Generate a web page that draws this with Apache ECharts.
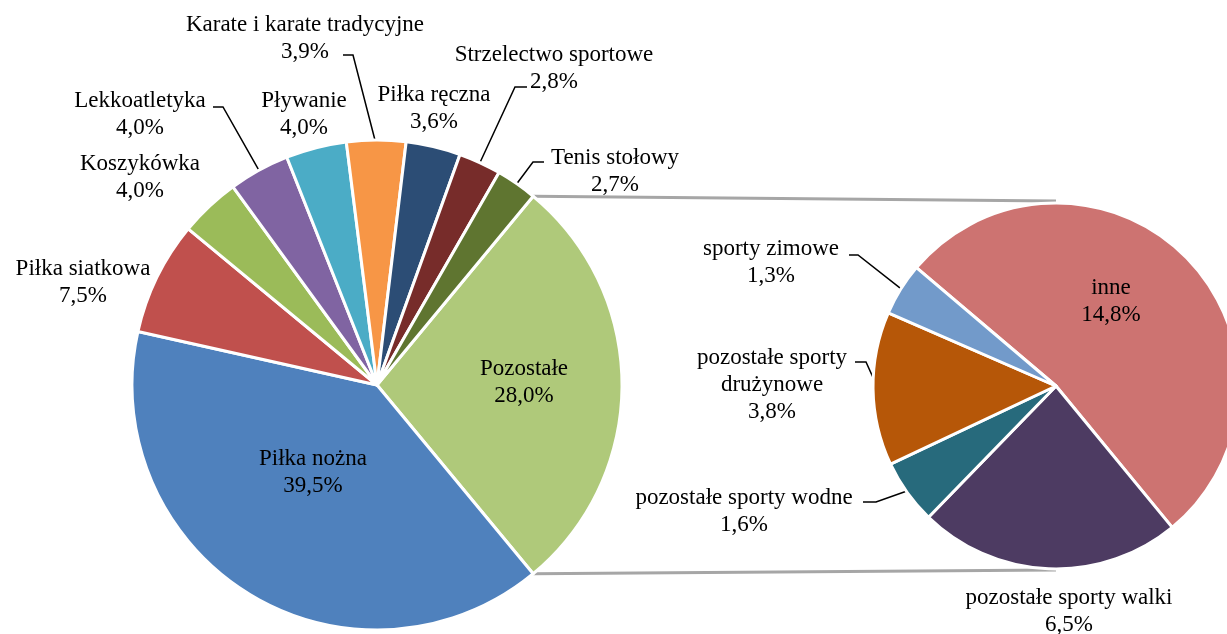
<!DOCTYPE html>
<html>
<head>
<meta charset="utf-8">
<title>Pie of pie</title>
<script src="https://cdn.jsdelivr.net/npm/echarts@6.0.0/dist/echarts.min.js"></script>
<style>
  html, body { margin: 0; padding: 0; background: #fff; }
  #chart { width: 1227px; height: 634px; }
</style>
</head>
<body>
<div id="chart"></div>
<script>
// main pie: "Pozostałe" is split into the small pie on the right
const mainNames = [
  "Pozostałe", "Piłka nożna", "Piłka siatkowa", "Koszykówka", "Lekkoatletyka",
  "Pływanie", "Karate i karate tradycyjne", "Piłka ręczna", "Strzelectwo sportowe", "Tenis stołowy"
];
const mainValues = [28.0, 39.5, 7.5, 4.0, 4.0, 4.0, 3.9, 3.6, 2.8, 2.7];
const mainColors = [
  "#afc97a", "#4f81bd", "#c0504d", "#9bbb59", "#8064a2",
  "#4bacc6", "#f79646", "#2c4d75", "#772c2a", "#5f7530"
];

const restNames = ["inne", "pozostałe sporty walki", "pozostałe sporty wodne", "pozostałe sporty\ndrużynowe", "sporty zimowe"];
const restValues = [14.8, 6.5, 1.6, 3.8, 1.3];
const restColors = ["#cd7371", "#4d3b62", "#276a7c", "#b65708", "#729aca"];

// geometry
const mainCenter = [377, 385], mainRadius = 245;
const restCenter = [1056, 386], restRadius = 183;
const restStart = 139.7;

// label text centres and leader line elbows (label side)
const mainLabelPos = [[524, 382], [313, 472], [83, 282], [140, 177], [140, 114],
  [304, 114], [305, 38], [434, 108], [554, 68], [615, 171]];
const mainLeaders = [null, null, null, null, [[223, 107], [213, 107]],
  null, [[353, 55], [343, 55]], null, [[515, 87], [527, 87]], [[533, 162], [544, 162]]];
const restLabelPos = [[1111, 301], [1069, 611], [744, 511], [772, 385], [771, 262]];
const restLeaders = [null, null, [[876, 502], [863, 502]], [[866, 362], [855, 362]], [[858, 255], [849, 255]]];

const fmt = v => v.toFixed(1).replace(".", ",") + "%";

function buildData(names, values, colors, leaders) {
  return names.map((n, i) => ({
    name: n,
    value: values[i],
    itemStyle: { color: colors[i] },
    labelLine: { show: !!leaders[i] }
  }));
}

function layoutFor(pos, leaders, center) {
  return params => {
    const i = params.dataIndex;
    const out = { x: pos[i][0], y: pos[i][1], align: "center", verticalAlign: "middle" };
    if (leaders[i] && params.labelLinePoints) {
      // end the leader a few px inside the slice, like the original
      const p = params.labelLinePoints[0];
      const dx = center[0] - p[0], dy = center[1] - p[1];
      const d = Math.sqrt(dx * dx + dy * dy) || 1;
      const inner = [p[0] + dx / d * 5, p[1] + dy / d * 5];
      out.labelLinePoints = [inner, leaders[i][0], leaders[i][1]];
    }
    return out;
  };
}

const mainTotal = mainValues.reduce((a, b) => a + b, 0);
const mainStart = mainValues[0] / mainTotal * 180;

const labelStyle = {
  show: true,
  position: "outside",
  color: "#000",
  fontFamily: "Liberation Serif",
  fontSize: 23,
  lineHeight: 27,
  formatter: p => p.name + "\n" + fmt(p.value)
};
const lineStyle = { color: "#000", width: 1.5 };

// connector lines between the two pies
const a = mainStart * Math.PI / 180;
const topA = [mainCenter[0] + mainRadius * Math.cos(a), mainCenter[1] - mainRadius * Math.sin(a)];
const botA = [mainCenter[0] + mainRadius * Math.cos(a), mainCenter[1] + mainRadius * Math.sin(a)];
const topB = [restCenter[0], restCenter[1] - restRadius - 2];
const botB = [restCenter[0], restCenter[1] + restRadius + 1];

const chart = echarts.init(document.getElementById("chart"));
chart.setOption({
  animation: false,
  backgroundColor: "#fff",
  graphic: [
    { type: "line", shape: { x1: topA[0], y1: topA[1], x2: topB[0], y2: topB[1] }, style: { stroke: "#a6a6a6", lineWidth: 3 }, z: 0 },
    { type: "line", shape: { x1: botA[0], y1: botA[1], x2: botB[0], y2: botB[1] }, style: { stroke: "#a6a6a6", lineWidth: 3 }, z: 0 }
  ],
  series: [
    {
      type: "pie",
      center: mainCenter,
      radius: mainRadius,
      startAngle: mainStart,
      avoidLabelOverlap: false,
      silent: true,
      itemStyle: { borderColor: "#fff", borderWidth: 3 },
      label: labelStyle,
      labelLine: { show: true, lineStyle: lineStyle },
      labelLayout: layoutFor(mainLabelPos, mainLeaders, mainCenter),
      data: buildData(mainNames, mainValues, mainColors, mainLeaders)
    },
    {
      type: "pie",
      center: restCenter,
      radius: restRadius,
      startAngle: restStart,
      avoidLabelOverlap: false,
      silent: true,
      itemStyle: { borderColor: "#fff", borderWidth: 3 },
      label: labelStyle,
      labelLine: { show: true, lineStyle: lineStyle },
      labelLayout: layoutFor(restLabelPos, restLeaders, restCenter),
      data: buildData(restNames, restValues, restColors, restLeaders)
    }
  ]
});
</script>
</body>
</html>
